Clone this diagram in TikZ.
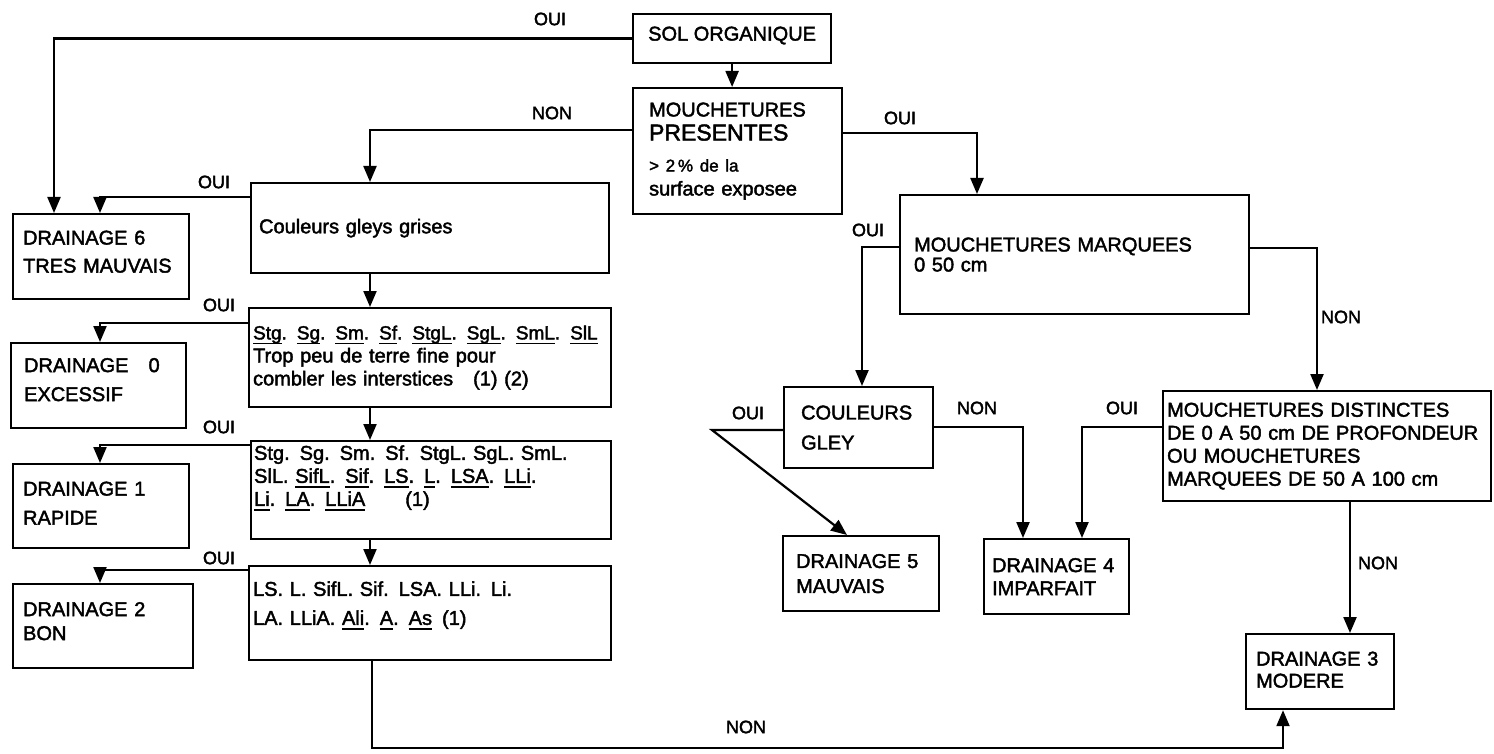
\documentclass[tikz,border=0pt]{standalone}
\usepackage{fontspec}
\setmainfont{Liberation Sans}[FakeBold=2]
\usetikzlibrary{arrows.meta,calc}
\newsavebox{\uxbox}
\newcommand{\ux}[1]{\leavevmode\sbox{\uxbox}{#1}\rlap{\rule[-5pt]{\wd\uxbox}{1.4pt}}\usebox{\uxbox}}
\newcommand{\dn}[1]{\rule[-#1]{0pt}{#1}}
\begin{document}
\begin{tikzpicture}[x=1pt,y=-1pt,
  box/.style={draw, line width=2.2pt, inner sep=0pt, anchor=north west, align=left},
  fs/.style={font=\fontsize{20}{#1}\selectfont},
  arr/.style={line width=2.2pt, -{Triangle[length=16pt,width=13pt]}},
  lab/.style={font=\fontsize{18}{20}\selectfont, inner sep=0pt}]
\fill[white] (0,0) rectangle (1494,754);
\useasboundingbox (0,0) rectangle (1494,754);

% boxes
\node[box, fs=24, minimum width=198pt, minimum height=49pt, align=center] (sol) at (632,13) {SOL ORGANIQUE\dn{10pt}};
\node[box, fs=24, minimum width=209pt, minimum height=126pt, text width=177pt] (mp) at (632,87)
  {MOUCHETURES\\{\fontsize{23}{24}\selectfont PRESENTES}\\[7pt]{\fontsize{17}{20}\selectfont > 2\,\% de la}\\surface exposee};
\node[box, fs=24, minimum width=358pt, minimum height=90pt, text width=342pt] (cg) at (250,182) {Couleurs gleys grises};
\node[box, fs=28, minimum width=176pt, minimum height=85pt, text width=156pt] (d6) at (12,213) {DRAINAGE 6\\TRES MAUVAIS\dn{10pt}};
\node[box, fs=23, minimum width=362pt, minimum height=99pt, text width=354pt] (stg1) at (248,307)
  {\mbox{\fontsize{19}{23}\selectfont\ux{Stg}. \ux{Sg}. \ux{Sm}. \ux{Sf}. \ux{StgL}. \ux{SgL}. \ux{SmL}. \ux{SlL}}\\Trop peu de terre fine pour\\combler les interstices\quad (1) (2)};
\node[box, fs=29, minimum width=175pt, minimum height=85pt, text width=149pt] (d0) at (10,342) {DRAINAGE\quad 0\\EXCESSIF\dn{12pt}};
\node[box, fs=23, minimum width=360pt, minimum height=98pt, text width=354pt] (stg2) at (250,440)
  {Stg. Sg. Sm. Sf. StgL. SgL. SmL.\\SlL. \ux{SifL}. \ux{Sif}. \ux{LS}. \ux{L}. \ux{LSA}. \ux{LLi}.\\\ux{Li}. \ux{LA}. \ux{LLiA}\qquad (1)\\[6pt]\mbox{}};
\node[box, fs=29, minimum width=176pt, minimum height=84pt, text width=156pt] (d1) at (12,463) {DRAINAGE 1\\RAPIDE\dn{6pt}};
\node[box, fs=29, minimum width=362pt, minimum height=94pt, text width=354pt] (ls) at (248,565)
  {LS. L. SifL. Sif. LSA. LLi. Li.\\LA. LLiA. \ux{Ali}. \ux{A}. \ux{As}\enspace(1)\\[-9pt]\mbox{}};
\node[box, fs=24, minimum width=180pt, minimum height=84pt, text width=160pt] (d2) at (12,583) {DRAINAGE 2\\BON\dn{10pt}};
\node[box, fs=20, minimum width=349pt, minimum height=119pt, text width=321pt] (mm) at (899,194) {MOUCHETURES MARQUEES\\0 50 cm};
\node[box, fs=30, minimum width=149pt, minimum height=81pt, text width=115pt] (cgl) at (783,386) {COULEURS\\GLEY};
\node[box, fs=25, minimum width=156pt, minimum height=75pt, text width=130pt] (d5) at (782,535) {DRAINAGE 5\\MAUVAIS};
\node[box, fs=23, minimum width=145pt, minimum height=75pt, text width=129pt] (d4) at (983,538) {DRAINAGE 4\\IMPARFAIT};
\node[box, fs=23, minimum width=328pt, minimum height=110pt, text width=320pt] (md) at (1162,390)
  {MOUCHETURES DISTINCTES\\DE 0 A 50 cm DE PROFONDEUR\\OU MOUCHETURES\\MARQUEES DE 50 A 100 cm};
\node[box, fs=22, minimum width=148pt, minimum height=75pt, text width=128pt] (d3) at (1245,633) {DRAINAGE 3\\MODERE\dn{4pt}};

% helper coordinates
\coordinate (colx) at (370,0);
\coordinate (d3x) at (1350,0);
\coordinate (bl) at (372,748);
\coordinate (br) at (1283,748);
\coordinate (bend5) at (712,430);

% connectors
\draw[arr] (sol.west) -| ($(d6.north west)+(42,0)$);
\draw[arr] (sol.south) -- (sol.south |- mp.north);
\draw[arr] ($(mp.north west)+(0,43)$) -| (cg.north -| colx);
\draw[arr] ($(mp.north east)+(0,46)$) -| ($(mm.north west)+(78,0)$);
\draw[arr] ($(cg.north west)+(0,15)$) -| ($(d6.north west)+(88,0)$);
\draw[arr] (cg.south -| colx) -- (stg1.north -| colx);
\draw[arr] ($(stg1.north west)+(0,16)$) -| ($(d0.north west)+(90,0)$);
\draw[arr] (stg1.south -| colx) -- (stg2.north -| colx);
\draw[arr] ($(stg2.north west)+(0,5)$) -| ($(d1.north west)+(88,0)$);
\draw[arr] (stg2.south -| colx) -- (ls.north -| colx);
\draw[arr] ($(ls.north west)+(0,5)$) -| ($(d2.north west)+(88,0)$);
\draw[arr] (ls.south -| bl) -- (bl) -- (br) -- (br |- d3.south);
\draw[arr] ($(mm.north west)+(0,53)$) -| ($(cgl.north west)+(79,0)$);
\draw[arr] ($(mm.north east)+(0,54)$) -| ($(md.north west)+(155,0)$);
\draw[arr] ($(cgl.north west)+(0,44)$) -- (bend5) -- ($(d5.north west)+(65,0)$);
\draw[arr] ($(cgl.north east)+(0,41)$) -| ($(d4.north west)+(40,0)$);
\draw[arr] ($(md.north west)+(0,37)$) -| ($(d4.north west)+(99,0)$);
\draw[arr] (md.south -| d3x) -- (d3.north -| d3x);

% labels
\node[lab] (l1) at (550,19) {OUI};
\node[lab] (l2) at (552,113) {NON};
\node[lab] (l3) at (900,118) {OUI};
\node[lab] (l4) at (214,182) {OUI};
\node[lab] (l5) at (219,305) {OUI};
\node[lab] (l6) at (219,427) {OUI};
\node[lab] (l7) at (219,558) {OUI};
\node[lab] (l8) at (746,727) {NON};
\node[lab] (l9) at (868,230) {OUI};
\node[lab] (l10) at (1341,317) {NON};
\node[lab] (l11) at (748,413) {OUI};
\node[lab] (l12) at (977,408) {NON};
\node[lab] (l13) at (1122,408) {OUI};
\node[lab] (l14) at (1378,563) {NON};
\end{tikzpicture}
\end{document}
